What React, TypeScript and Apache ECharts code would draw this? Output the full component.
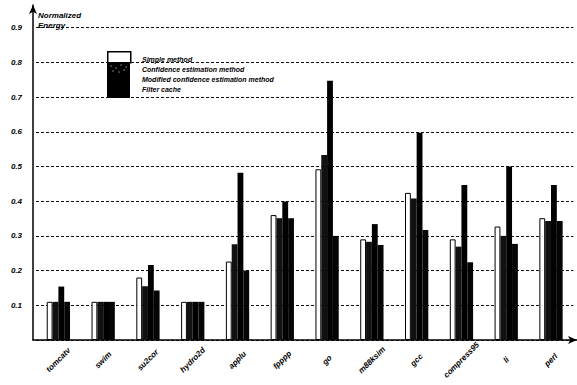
import React, { useEffect, useRef } from "react";
import * as echarts from "echarts";

const categories = ["tomcatv", "swim", "su2cor", "hydro2d", "applu", "fpppp", "go", "m88ksim", "gcc", "compress95", "li", "perl"];
const simpleMethod = [0.11, 0.11, 0.18, 0.11, 0.226, 0.36, 0.492, 0.29, 0.424, 0.29, 0.327, 0.351];
const confidenceMethod = [0.11, 0.11, 0.155, 0.11, 0.276, 0.351, 0.533, 0.283, 0.408, 0.269, 0.3, 0.343];
const modifiedMethod = [0.154, 0.11, 0.216, 0.11, 0.482, 0.399, 0.747, 0.334, 0.597, 0.447, 0.5, 0.447];
const filterCache = [0.11, 0.11, 0.143, 0.11, 0.2, 0.351, 0.3, 0.274, 0.317, 0.224, 0.277, 0.343];
const seriesNames = ["Simple method", "Confidence estimation method", "Modified confidence estimation method", "Filter cache"];
const yTicks = ["0.1", "0.2", "0.3", "0.4", "0.5", "0.6", "0.7", "0.8", "0.9"];

const FONT = "'Liberation Sans', Arial, sans-serif";

export default function App() {
  const ref = useRef<HTMLDivElement>(null);
  useEffect(() => {
    if (!ref.current) return;
    const chart = echarts.init(ref.current, null, { renderer: "svg" });
    const barBase = { type: "bar", barGap: "0%", barCategoryGap: "48%", xAxisIndex: 0, yAxisIndex: 0 };
    chart.setOption({
      animation: false,
      backgroundColor: "#fff",
      textStyle: { fontFamily: FONT },
      grid: [
        { left: 36, right: 3.6, top: 27.7, bottom: 45 },
        { left: 33, right: 0, top: 5, bottom: 45 },
      ],
      legend: {
        data: seriesNames,
        orient: "vertical",
        left: 137,
        top: 55.5,
        itemWidth: 0,
        itemHeight: 8,
        itemGap: 2,
        padding: 0,
        selectedMode: false,
        itemStyle: { borderWidth: 0, opacity: 0 },
        textStyle: { fontFamily: FONT, fontSize: 7, fontStyle: "italic", fontWeight: "bold", color: "#000" },
      },
      xAxis: [
        {
          type: "category",
          gridIndex: 0,
          data: categories,
          axisLine: { show: false },
          axisTick: { show: false },
          axisLabel: {
            rotate: 45,
            margin: 20,
            align: "center",
            verticalAlign: "middle",
            interval: 0,
            fontFamily: FONT,
            fontSize: 8,
            fontStyle: "italic",
            fontWeight: "bold",
            color: "#000",
          },
        },
        {
          type: "value",
          gridIndex: 1,
          min: 0,
          max: 1,
          axisLine: { show: true, lineStyle: { color: "#000", width: 1.5 }, symbol: ["none", "arrow"], symbolSize: [6, 9] },
          axisTick: { show: false },
          axisLabel: { show: false },
          splitLine: { show: false },
        },
      ],
      yAxis: [
        {
          type: "value",
          gridIndex: 0,
          min: 0,
          max: 0.9,
          interval: 0.1,
          axisLine: { show: false },
          axisTick: { show: true, length: 0, lineStyle: { opacity: 0 } },
          axisLabel: {
            margin: 14,
            fontFamily: FONT,
            fontSize: 8,
            fontStyle: "italic",
            fontWeight: "bold",
            color: "#000",
            formatter: (v: number) => {
              const s = v.toFixed(1);
              return yTicks.indexOf(s) >= 0 ? s : "";
            },
          },
          splitLine: { show: true, lineStyle: { color: "#111", width: 1.2, type: [3, 2] } },
        },
        {
          type: "value",
          gridIndex: 1,
          min: 0,
          max: 1,
          name: "Normalized\nEnergy",
          nameLocation: "end",
          nameGap: -5,
          nameTextStyle: {
            align: "left",
            verticalAlign: "top",
            padding: [0, 0, 0, 5],
            fontFamily: FONT,
            fontSize: 8,
            fontStyle: "italic",
            fontWeight: "bold",
            lineHeight: 10,
            color: "#000",
          },
          axisLine: { show: true, lineStyle: { color: "#000", width: 1.5 }, symbol: ["none", "arrow"], symbolSize: [6, 9] },
          axisTick: { show: false },
          axisLabel: { show: false },
          splitLine: { show: false },
        },
      ],
      series: [
        { ...barBase, name: seriesNames[0], data: simpleMethod, itemStyle: { color: "#fff", borderColor: "#000", borderWidth: 1 } },
        { ...barBase, name: seriesNames[1], data: confidenceMethod, itemStyle: { color: "#111" } },
        { ...barBase, name: seriesNames[2], data: modifiedMethod, itemStyle: { color: "#000" } },
        { ...barBase, name: seriesNames[3], data: filterCache, itemStyle: { color: "#050505" } },
      ],
      graphic: [
        { type: "rect", left: 107, top: 62, shape: { width: 23, height: 36 }, style: { fill: "#000" }, z: 10 },
        { type: "rect", left: 107, top: 51, shape: { width: 23, height: 11 }, style: { fill: "#fff", stroke: "#000", lineWidth: 1.5 }, z: 11 },
        { type: "circle", shape: { cx: 111, cy: 66, r: 0.6 }, style: { fill: "#bbb" }, z: 12 },
        { type: "circle", shape: { cx: 116, cy: 68, r: 0.6 }, style: { fill: "#bbb" }, z: 12 },
        { type: "circle", shape: { cx: 121, cy: 65, r: 0.6 }, style: { fill: "#bbb" }, z: 12 },
        { type: "circle", shape: { cx: 126, cy: 67, r: 0.6 }, style: { fill: "#bbb" }, z: 12 },
        { type: "circle", shape: { cx: 113, cy: 71, r: 0.6 }, style: { fill: "#bbb" }, z: 12 },
        { type: "circle", shape: { cx: 119, cy: 72, r: 0.6 }, style: { fill: "#bbb" }, z: 12 },
        { type: "circle", shape: { cx: 124, cy: 70, r: 0.6 }, style: { fill: "#bbb" }, z: 12 },
      ],
    });
    return () => chart.dispose();
  }, []);
  return <div ref={ref} style={{ position: "fixed", left: 0, top: 0, width: 577, height: 385 }} />;
}
